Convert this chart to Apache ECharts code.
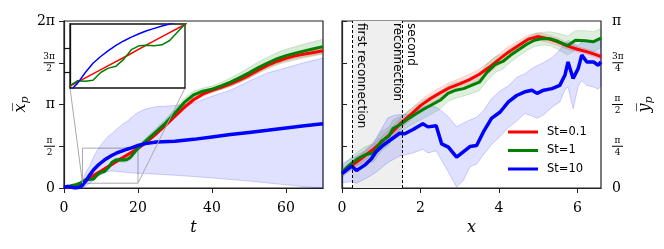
<!DOCTYPE html>
<html><head><meta charset="utf-8">
<script src="https://cdn.jsdelivr.net/npm/echarts@6/dist/echarts.min.js"></script>
<style>html,body{margin:0;padding:0;background:#fff}#c{width:664px;height:249px}</style>
</head><body><div id="c"></div>
<script>
const PI = Math.PI;
// ---------- left panel (t vs x_p) ----------
const tRed = [0,1,2,3,4,5,7.5,10,12.5,15,17.5,20,22.5,25,27.5,30,32.5,35,37.5,40,42.5,45,47.5,50,52.5,55,57.5,60,62.5,65,67.5,70];
const redL = [0.0,0.03,0.06,0.1,0.15,0.22,0.43,0.64,0.85,1.07,1.28,1.49,1.75,2.05,2.37,2.70,3.03,3.32,3.53,3.67,3.79,3.92,4.07,4.24,4.43,4.61,4.76,4.88,4.97,5.04,5.10,5.16];
const redSpreadL = [0.02,0.03,0.04,0.05,0.05,0.05,0.05,0.06,0.06,0.06,0.06,0.06,0.07,0.07,0.08,0.08,0.08,0.08,0.08,0.08,0.08,0.09,0.09,0.09,0.09,0.09,0.09,0.1,0.1,0.1,0.1,0.1];
const tGreen = [0,1,2,3,4,5,6,7,8,9,10,11,12,13,14,15,16,17,18,19,20,21,22.5,25,27.5,30,32.5,35,37.5,40,42.5,45,47.5,50,52.5,55,57.5,60,62.5,65,67.5,70];
const greenL = [0.02,0.05,0.09,0.11,0.16,0.23,0.33,0.32,0.34,0.50,0.59,0.63,0.77,0.97,1.05,1.06,1.05,1.07,1.16,1.33,1.50,1.63,1.82,2.13,2.45,2.82,3.22,3.50,3.64,3.72,3.84,3.98,4.15,4.33,4.53,4.70,4.86,4.98,5.07,5.16,5.24,5.32];
const greenSpreadL = [0.02,0.03,0.04,0.05,0.05,0.06,0.06,0.06,0.06,0.06,0.07,0.07,0.07,0.07,0.07,0.07,0.08,0.08,0.08,0.08,0.09,0.1,0.12,0.14,0.15,0.16,0.16,0.15,0.12,0.12,0.13,0.16,0.18,0.2,0.21,0.22,0.23,0.24,0.25,0.26,0.27,0.28];
const tBlue = [0,1,2,3,4,5,5.5,6,7,8,9,10,11,12,13,14,15,16,17,18,19,20,22,25,30,35,40,45,50,55,60,65,70];
const blueL = [0.02,0.06,0.03,0.0,0.02,0.1,0.2,0.28,0.50,0.69,0.83,0.95,1.06,1.15,1.23,1.30,1.36,1.41,1.46,1.50,1.55,1.60,1.67,1.73,1.76,1.83,1.92,2.01,2.09,2.17,2.26,2.34,2.42];
const blueUpL = [0.08,0.12,0.1,0.06,0.1,0.3,0.45,0.6,0.85,1.17,1.42,1.62,1.8,1.95,2.05,2.18,2.3,2.42,2.5,2.62,2.74,2.84,2.97,3.06,3.10,3.2,3.45,3.68,4.02,4.33,4.52,4.72,4.89];
const blueLoL = [0,0.01,0,0,0,0.02,0.05,0.08,0.18,0.3,0.42,0.5,0.57,0.62,0.64,0.63,0.61,0.6,0.58,0.57,0.56,0.55,0.54,0.52,0.48,0.43,0.38,0.32,0.26,0.19,0.12,0.05,0.0];
const tTicksL = [0,20,40,60];
const yTicksL = [0, PI/2, PI, 3*PI/2, 2*PI];
const yLabelsL = ['0','π/2','π','3π/2','2π'];
const insetX = [5,20];
const insetY = [0.18,1.5];
const insetYTicks = [0.5,1.0];
// ---------- right panel (x vs y_p) ----------
const xRedR = [0,0.25,0.5,0.75,1.0,1.25,1.5,1.75,2.0,2.25,2.5,2.75,3.0,3.25,3.5,3.75,4.0,4.25,4.5,4.75,5.0,5.25,5.5,5.75,6.0,6.25,6.5,6.6];
const redR = [0.30,0.42,0.56,0.70,0.86,1.03,1.22,1.38,1.55,1.68,1.79,1.89,1.96,2.04,2.14,2.27,2.42,2.56,2.68,2.80,2.85,2.81,2.75,2.67,2.61,2.56,2.50,2.47];
const redSpreadR = [0.06,0.07,0.08,0.09,0.1,0.1,0.1,0.1,0.1,0.1,0.1,0.1,0.1,0.1,0.1,0.1,0.1,0.1,0.09,0.08,0.07,0.07,0.07,0.06,0.05,0.05,0.05,0.05];
const xGreenR = [0,0.2,0.4,0.6,0.8,1.0,1.2,1.3,1.5,1.7,1.9,2.1,2.3,2.5,2.7,2.9,3.1,3.3,3.5,3.7,3.9,4.1,4.3,4.5,4.7,4.9,5.1,5.3,5.5,5.75,5.95,6.2,6.4,6.6];
const greenR = [0.30,0.44,0.55,0.63,0.66,0.88,0.98,1.12,1.20,1.31,1.40,1.49,1.57,1.65,1.78,1.84,1.87,1.93,1.99,2.18,2.32,2.38,2.50,2.60,2.70,2.78,2.81,2.81,2.76,2.68,2.78,2.77,2.75,2.82];
const greenSpreadR = [0.1,0.12,0.13,0.15,0.17,0.18,0.17,0.16,0.15,0.15,0.16,0.17,0.17,0.16,0.15,0.15,0.14,0.15,0.16,0.16,0.15,0.14,0.13,0.12,0.12,0.12,0.12,0.13,0.15,0.18,0.18,0.19,0.19,0.18];
const xBlueR = [0,0.24,0.37,0.58,0.75,0.87,1.04,1.17,1.34,1.47,1.6,1.81,2.06,2.19,2.40,2.54,2.71,2.92,3.09,3.26,3.43,3.6,3.81,4.03,4.24,4.45,4.66,4.84,4.97,5.14,5.35,5.55,5.68,5.76,5.89,6.02,6.11,6.24,6.41,6.53,6.6];
const blueR = [0.27,0.41,0.33,0.43,0.55,0.68,0.80,0.87,0.96,1.03,1.02,1.10,1.21,1.15,1.17,0.83,0.77,0.58,0.68,0.78,0.80,1.05,1.31,1.43,1.62,1.74,1.81,1.84,1.78,1.84,1.87,1.93,2.12,2.37,2.06,2.25,2.50,2.37,2.37,2.31,2.37];
const blueUpR = [0.46,0.55,0.60,0.70,0.82,0.93,1.15,1.32,1.37,1.38,1.38,1.40,1.52,1.55,1.52,1.45,1.34,1.15,1.22,1.28,1.33,1.45,1.68,1.83,1.92,2.08,2.15,2.25,2.30,2.36,2.45,2.60,2.72,2.78,2.72,2.68,2.75,2.78,2.78,2.79,2.80];
const blueLoR = [0.10,0.12,0.09,0.17,0.24,0.30,0.40,0.48,0.55,0.60,0.62,0.66,0.73,0.66,0.70,0.52,0.30,0.02,0.14,0.40,0.45,0.62,0.82,0.97,1.14,1.26,1.40,1.36,1.31,1.38,1.52,1.62,1.85,1.90,1.49,1.92,2.02,1.93,1.90,1.86,1.92];
const xTicksR = [0,2,4,6];
const yTicksR = [0, PI/4, PI/2, 3*PI/4, PI];
const yLabelsR = ['0','π/4','π/2','3π/4','π'];
const reconnections = [0.27, 1.53];
const reconLabels = ['first reconnection', 'second\nreconnection'];
const names = ['St=0.1','St=1','St=10'];
const colors = ['#ff0000','#008000','#0000ff'];

const SERIF = 'DejaVu Serif';
const SANS = 'DejaVu Sans';
const zip = (xs, ys) => xs.map((x,i)=>[x, ys[i]]);

function piFormatter(ticks, labels){
  return function(v){
    let i = 0, best = 1e9;
    ticks.forEach((t,k)=>{ const d=Math.abs(t-v); if(d<best){best=d;i=k;} });
    const s = labels[i];
    if (s.indexOf('/')>=0){
      const [n,d] = s.split('/');
      return '{n|'+n+'}\n{b| }\n{d|'+d+'}';
    }
    return '{m|'+s+'}';
  };
}
const fracRich = {
  n:{fontFamily:SERIF,fontSize:9,lineHeight:9,align:'center',color:'#000'},
  b:{width:11,height:1,lineHeight:3,fontSize:1,backgroundColor:'#000',align:'center'},
  d:{fontFamily:SERIF,fontSize:9,lineHeight:9,align:'center',color:'#000'},
  m:{fontFamily:SERIF,fontSize:14,color:'#000'}
};

function band(xi, yi, xs, lo, hi, fill, stroke, z){
  return {type:'custom', xAxisIndex:xi, yAxisIndex:yi, silent:true, z:z||1,
    data:[[xs[0], lo[0]]],
    renderItem(params, api){
      const pts=[];
      for(let i=0;i<xs.length;i++) pts.push(api.coord([xs[i], hi[i]]));
      for(let i=xs.length-1;i>=0;i--) pts.push(api.coord([xs[i], lo[i]]));
      return {type:'polygon', shape:{points:pts}, style:{fill:fill, stroke:stroke, lineWidth:0.8}};
    }};
}
function line(name, xi, yi, xs, ys, color, w, z){
  return {type:'line', name, xAxisIndex:xi, yAxisIndex:yi, data:zip(xs,ys), showSymbol:false, symbol:'none',
    lineStyle:{color, width:w}, itemStyle:{color}, z:z||2, clip:true, silent:true};
}
const sub = (a,b)=>a.map((v,i)=>v-b[i]);
const add = (a,b)=>a.map((v,i)=>v+b[i]);

const axisLineStyle = {lineStyle:{color:'#222', width:1.2}};
const tickStyle = {show:true, inside:false, length:5, lineStyle:{color:'#222', width:1}};
const nameStyle = {fontFamily:SERIF, fontStyle:'italic', fontSize:16, color:'#000'};
const ynameRich = {
  x:{fontFamily:SERIF, fontStyle:'italic', fontSize:16, color:'#000', lineHeight:20},
  p:{fontFamily:SERIF, fontStyle:'italic', fontSize:11, color:'#000', verticalAlign:'bottom'}
};

const chart = echarts.init(document.getElementById('c'), null, {renderer:'canvas'});
const option = {
  animation:false,
  backgroundColor:'#fff',
  grid:[
    {left:64, top:21, width:259, height:167, show:true, borderColor:'#222', borderWidth:1.2, backgroundColor:'transparent'},
    {left:342, top:21, width:259, height:167, show:true, borderColor:'#222', borderWidth:1.2, backgroundColor:'transparent'},
    {left:70, top:24, width:115, height:64, show:true, borderColor:'#111', borderWidth:1.3, backgroundColor:'#fff', z:5}
  ],
  xAxis:[
    {gridIndex:0, type:'value', min:0, max:70, axisLine:axisLineStyle, splitLine:{show:false},
     axisTick:Object.assign({customValues:tTicksL}, tickStyle),
     axisLabel:{customValues:tTicksL, fontFamily:SERIF, fontSize:14, color:'#000', margin:13},
     name:'t', nameLocation:'middle', nameGap:31, nameTextStyle:nameStyle},
    {gridIndex:1, type:'value', min:0, max:6.6, axisLine:axisLineStyle, splitLine:{show:false},
     axisTick:Object.assign({customValues:xTicksR}, tickStyle),
     axisLabel:{customValues:xTicksR, fontFamily:SERIF, fontSize:14, color:'#000', margin:13},
     name:'x', nameLocation:'middle', nameGap:31, nameTextStyle:nameStyle},
    {gridIndex:2, type:'value', min:insetX[0], max:insetX[1], show:false, z:5}
  ],
  yAxis:[
    {gridIndex:0, type:'value', min:0, max:2*PI, axisLine:axisLineStyle, splitLine:{show:false},
     axisTick:Object.assign({customValues:yTicksL}, tickStyle),
     axisLabel:{customValues:yTicksL, formatter:piFormatter(yTicksL,yLabelsL), rich:fracRich, margin:9, color:'#000'},
     name:'{x|x\u0305}{p|p}', nameLocation:'middle', nameGap:33, nameRotate:90, nameTextStyle:{rich:ynameRich}},
    {gridIndex:1, type:'value', position:'right', min:0, max:PI, axisLine:axisLineStyle, splitLine:{show:false},
     axisTick:Object.assign({customValues:yTicksR}, tickStyle),
     axisLabel:{customValues:yTicksR, formatter:piFormatter(yTicksR,yLabelsR), rich:fracRich, margin:11, color:'#000'},
     name:'{x|y\u0305}{p|p}', nameLocation:'middle', nameGap:34, nameRotate:90, nameTextStyle:{rich:ynameRich}},
    {gridIndex:2, type:'value', min:insetY[0], max:insetY[1], z:5,
     axisLine:{show:true, lineStyle:{color:'#111', width:1.3}}, splitLine:{show:false},
     axisTick:{show:true, inside:false, length:6, customValues:insetYTicks, lineStyle:{color:'#111', width:1.2}},
     axisLabel:{show:false}}
  ],
  legend:{
    data:names, orient:'vertical', left:508, top:125, padding:0, itemGap:4.5,
    itemWidth:30, itemHeight:3, icon:'rect',
    textStyle:{fontFamily:SANS, fontSize:11.5, color:'#000', lineHeight:14, padding:[0,0,0,4]}
  },
  series:[
    {type:'line', xAxisIndex:1, yAxisIndex:1, data:[], z:0, silent:true,
     markArea:{silent:true, itemStyle:{color:'#efefef'}, data:[[{xAxis:reconnections[0]},{xAxis:reconnections[1]}]]}},
    band(0,0,tRed, sub(redL,redSpreadL), add(redL,redSpreadL), 'rgba(255,0,0,0.15)', 'rgba(255,0,0,0.2)'),
    band(0,0,tGreen, sub(greenL,greenSpreadL), add(greenL,greenSpreadL), 'rgba(0,128,0,0.15)', 'rgba(0,128,0,0.2)'),
    band(0,0,tBlue, blueLoL, blueUpL, 'rgba(0,0,255,0.12)', 'rgba(0,0,255,0.22)'),
    band(1,1,xRedR, sub(redR,redSpreadR), add(redR,redSpreadR), 'rgba(255,0,0,0.13)', 'rgba(255,0,0,0.18)'),
    band(1,1,xGreenR, sub(greenR,greenSpreadR), add(greenR,greenSpreadR), 'rgba(0,128,0,0.13)', 'rgba(0,128,0,0.2)'),
    band(1,1,xBlueR, blueLoR, blueUpR, 'rgba(0,0,255,0.12)', 'rgba(0,0,255,0.22)'),
    {type:'line', xAxisIndex:1, yAxisIndex:1, data:[], z:1.5, silent:true,
     markLine:{silent:true, symbol:'none', label:{show:false}, lineStyle:{color:'#000', type:[3,2], width:1},
       data:reconnections.map(v=>({xAxis:v}))}},
    {type:'line', xAxisIndex:0, yAxisIndex:0, data:[], z:3, silent:true,
     markArea:{silent:true, itemStyle:{color:'rgba(0,0,0,0)', borderColor:'#aaa', borderWidth:1},
       data:[[{coord:[insetX[0],insetY[0]]},{coord:[insetX[1],insetY[1]]}]]}},
    line(names[0],0,0,tRed,redL,colors[0],3),
    line(names[1],0,0,tGreen,greenL,colors[1],3),
    line(names[2],0,0,tBlue,blueL,colors[2],3.5),
    line(names[0],1,1,xRedR,redR,colors[0],3),
    line(names[1],1,1,xGreenR,greenR,colors[1],3),
    line(names[2],1,1,xBlueR,blueR,colors[2],3.5),
    line(names[0],2,2,tRed,redL,colors[0],1.5,6),
    line(names[1],2,2,tGreen,greenL,colors[1],1.5,6),
    line(names[2],2,2,tBlue,blueL,colors[2],1.5,6)
  ]
};
chart.setOption(option);

const pA = chart.convertToPixel({gridIndex:0}, [insetX[0], insetY[0]]);
const pB = chart.convertToPixel({gridIndex:0}, [insetX[1], insetY[0]]);
const qA = chart.convertToPixel({gridIndex:2}, [insetX[0], insetY[0]]);
const qB = chart.convertToPixel({gridIndex:2}, [insetX[1], insetY[0]]);
const r1 = chart.convertToPixel({xAxisIndex:1}, reconnections[0]);
const r2 = chart.convertToPixel({xAxisIndex:1}, reconnections[1]);
const topY = chart.convertToPixel({yAxisIndex:1}, PI);
chart.setOption({graphic:[
  {type:'line', z:4, silent:true, shape:{x1:qA[0],y1:qA[1],x2:pA[0],y2:pA[1]}, style:{stroke:'#aaa', lineWidth:1}},
  {type:'line', z:4, silent:true, shape:{x1:qB[0],y1:qB[1],x2:pB[0],y2:pB[1]}, style:{stroke:'#aaa', lineWidth:1}},
  {type:'text', z:4, silent:true, x:r1+8.5, y:topY+2, rotation:-Math.PI/2,
   style:{text:reconLabels[0], font:'12px "DejaVu Sans"', fill:'#000', align:'left', verticalAlign:'middle'}},
  {type:'text', z:4, silent:true, x:r2+2, y:topY+2, rotation:-Math.PI/2,
   style:{text:reconLabels[1], font:'12px "DejaVu Sans"', fill:'#000', align:'left', verticalAlign:'middle', lineHeight:13.5}}
]});
</script>
</body></html>
